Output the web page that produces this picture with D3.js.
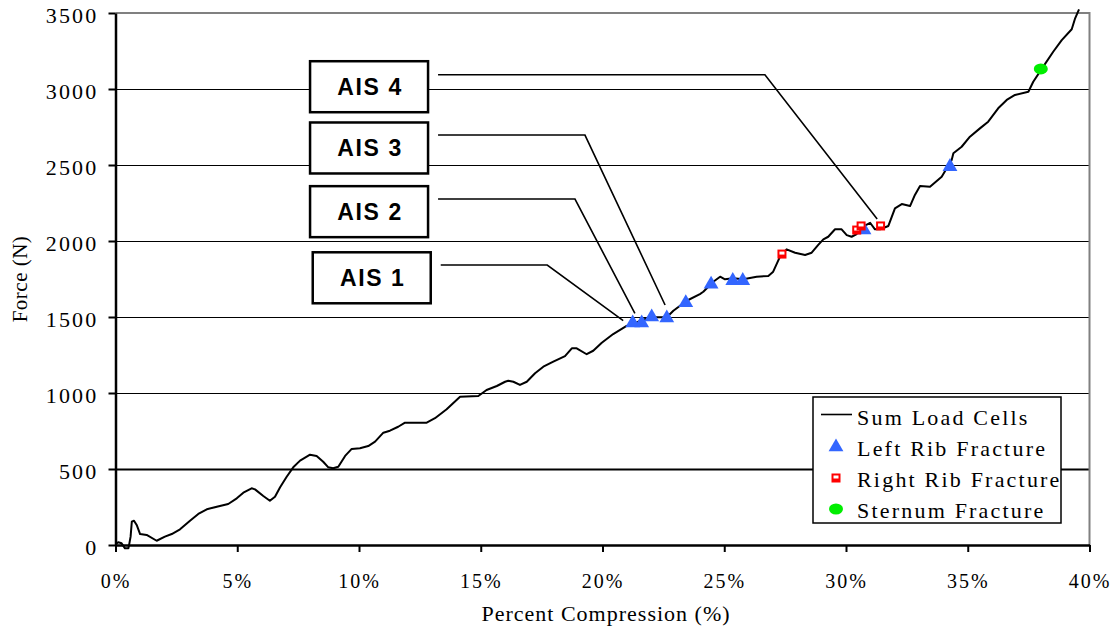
<!DOCTYPE html>
<html>
<head>
<meta charset="utf-8">
<script src="https://cdn.jsdelivr.net/npm/d3@7"></script>
<style>
  body { margin: 0; background: #fff; }
  svg { display: block; }
  .serif { font-family: "Liberation Serif", "Times New Roman", serif; }
  .sans { font-family: "Liberation Sans", Arial, sans-serif; }
</style>
</head>
<body>
<div id="chart"></div>
<script>
// curve: sum of load cells
const pct = [0.05, 0.11, 0.25, 0.39, 0.53, 0.57, 0.62, 0.67, 0.76, 0.87, 1.01, 1.28, 1.69, 2.03, 2.31, 2.65,
  3.06, 3.40, 3.75, 4.16, 4.63, 4.98, 5.25, 5.59, 5.73, 6.07, 6.34, 6.55, 6.76, 7.03, 7.30, 7.58, 7.99, 8.26,
  8.53, 8.74, 8.94, 9.15, 9.43, 9.70, 10.04, 10.38, 10.66, 11.00, 11.27, 11.61, 11.89, 12.78, 13.12, 13.60,
  14.15, 14.90, 15.24, 15.66, 16.00, 16.13, 16.34, 16.61, 16.89, 17.23, 17.57, 17.98, 18.46, 18.74, 18.94,
  19.35, 19.62, 19.97, 20.44, 20.99, 21.26, 21.61, 22.02, 22.64, 22.91, 23.46, 24.00, 24.14, 24.55, 24.83,
  25.03, 25.37, 25.78, 26.33, 26.81, 27.01, 27.29, 27.56, 27.91, 28.32, 28.59, 28.86, 29.07, 29.27, 29.55,
  29.82, 30.03, 30.23, 30.44, 30.64, 30.99, 31.19, 31.40, 31.74, 32.01, 32.29, 32.63, 32.83, 33.04, 33.45,
  33.93, 34.34, 34.41, 34.75, 35.09, 35.50, 35.84, 36.25, 36.60, 36.94, 37.49, 37.69, 38.10, 38.51, 38.86,
  39.27, 39.41, 39.57];
const force = [11, 18, 11, -22, -22, 11, 55, 153, 160, 132, 72, 66, 28, 55, 72, 103,
  160, 204, 235, 252, 270, 307, 344, 373, 366, 322, 291, 318, 380, 449, 511, 555, 594, 586,
  548, 511, 505, 515, 586, 632, 636, 651, 680, 739, 752, 778, 805, 805, 834, 893,
  976, 980, 1020, 1046, 1074, 1081, 1074, 1053, 1074, 1130, 1173, 1206, 1243, 1294, 1294,
  1255, 1278, 1331, 1388, 1441, 1454, 1480, 1498, 1498, 1541, 1607, 1651, 1666, 1732, 1765,
  1748, 1755, 1748, 1765, 1770, 1798, 1897, 1945, 1923, 1908, 1923, 1974, 2011, 2028, 2077,
  2077, 2039, 2028, 2046, 2090, 2120, 2077, 2077, 2099, 2215, 2243, 2230, 2303, 2362, 2357,
  2423, 2533, 2577, 2620, 2686, 2741, 2785, 2873, 2928, 2961, 2982, 3048, 3147, 3245, 3322,
  3393, 3465, 3524];

const leftRibPct = [21.24, 21.61, 22.02, 22.64, 23.42, 24.46, 25.35, 25.76, 30.74, 34.27];
const leftRibForce = [1461, 1461, 1500, 1493, 1594, 1715, 1739, 1739, 2072, 2489];
const rightRibPct = [27.37, 30.44, 30.62, 31.42];
const rightRibForce = [1914, 2072, 2099, 2099];
const sternumPct = [38.00];
const sternumForce = [3132];

// AIS callouts
const aisLabels = ["AIS 1", "AIS 2", "AIS 3", "AIS 4"];
const aisBoxPct = [8.10, 7.99, 7.99, 7.99];
const aisBoxForce = [1758, 2193, 2612, 3015];
const aisElbowPct = [17.73, 18.87, 19.28, 26.67];
const aisElbowForce = [1842, 2276, 2697, 3094];
const aisTargetPct = [20.85, 21.33, 22.57, 31.28];
const aisTargetForce = [1476, 1524, 1579, 2145];

const xTicks = [0, 5, 10, 15, 20, 25, 30, 35, 40];
const yTicks = [0, 500, 1000, 1500, 2000, 2500, 3000, 3500];
const legendLabels = ["Sum Load Cells", "Left Rib Fracture", "Right Rib Fracture", "Sternum Fracture"];

const width = 1112, height = 629;
const margin = {top: 13, right: 22.5, bottom: 84, left: 115.5};

const svg = d3.select('#chart').append('svg')
  .attr('width', width).attr('height', height);

const x = d3.scaleLinear().domain([0, 40]).range([margin.left, width - margin.right]);
const y = d3.scaleLinear().domain([0, 3500]).range([height - margin.bottom, margin.top]);

// gridlines
svg.append('g').selectAll('line')
  .data(yTicks.filter(d => d > 0 && d < 3500))
  .enter().append('line')
  .attr('x1', x(0)).attr('x2', x(40))
  .attr('y1', d => Math.round(y(d)) + 0.5).attr('y2', d => Math.round(y(d)) + 0.5)
  .attr('stroke', '#000')
  .attr('stroke-width', d => d === 500 ? 2 : 1.2);

// gray frame top/right
svg.append('path')
  .attr('d', `M${x(0)},${y(3500)}H${x(40)}V${y(0)}`)
  .attr('fill', 'none').attr('stroke', '#808080').attr('stroke-width', 2);

// axes
const yAxis = svg.append('g')
  .attr('transform', `translate(${x(0)},0)`)
  .call(d3.axisLeft(y).tickValues(yTicks).tickSize(7).tickSizeOuter(0).tickPadding(10)
    .tickFormat(d3.format('d')));
const xAxis = svg.append('g')
  .attr('transform', `translate(0,${y(0)})`)
  .call(d3.axisBottom(x).tickValues(xTicks).tickSize(7).tickSizeOuter(0).tickPadding(10)
    .tickFormat(d => d + '%'));

[yAxis, xAxis].forEach(g => {
  g.attr('font-family', null);
  g.select('.domain').attr('stroke', '#000').attr('stroke-width', 2.5);
  g.selectAll('.tick line').attr('stroke', '#000').attr('stroke-width', 2);
  g.selectAll('.tick text').attr('class', 'serif').attr('fill', '#000');
});
yAxis.selectAll('.tick text').attr('font-size', 22).attr('letter-spacing', 2.2).attr('dy', '0.45em');
xAxis.selectAll('.tick text').attr('font-size', 20).attr('letter-spacing', 2).attr('dy', '1.3em');

// axis titles
svg.append('text')
  .attr('class', 'serif')
  .attr('x', 606).attr('y', 621)
  .attr('text-anchor', 'middle')
  .attr('font-size', 22).attr('letter-spacing', 1)
  .text('Percent Compression (%)');
svg.append('text')
  .attr('class', 'serif')
  .attr('transform', `translate(27,${(y(0) + y(3500)) / 2}) rotate(-90)`)
  .attr('text-anchor', 'middle')
  .attr('font-size', 21).attr('letter-spacing', 0.5)
  .text('Force (N)');

// AIS callouts
const boxW = 118, boxH = 51;
const ais = aisLabels.map((label, i) => ({label, i}));
svg.append('g').selectAll('path')
  .data(ais).enter().append('path')
  .attr('d', d => {
    const sx = x(aisBoxPct[d.i]) + boxW + 10;
    return `M${sx},${y(aisElbowForce[d.i])}L${x(aisElbowPct[d.i])},${y(aisElbowForce[d.i])}` +
      `L${x(aisTargetPct[d.i])},${y(aisTargetForce[d.i])}`;
  })
  .attr('fill', 'none').attr('stroke', '#000').attr('stroke-width', 1.6);

const boxes = svg.append('g').selectAll('g')
  .data(ais).enter().append('g')
  .attr('transform', d => `translate(${x(aisBoxPct[d.i])},${y(aisBoxForce[d.i]) - boxH / 2})`);
boxes.append('rect')
  .attr('width', boxW).attr('height', boxH)
  .attr('fill', '#fff').attr('stroke', '#000').attr('stroke-width', 2.5);
boxes.append('text')
  .attr('class', 'sans')
  .attr('x', boxW / 2 + 1).attr('y', boxH / 2 + 8.5)
  .attr('text-anchor', 'middle')
  .attr('font-weight', 'bold').attr('font-size', 23).attr('letter-spacing', 1.6)
  .text(d => d.label);

// curve
const line = d3.line().x(d => x(d[0])).y(d => y(d[1]));
svg.append('path')
  .datum(pct.map((p, i) => [p, force[i]]))
  .attr('d', line)
  .attr('fill', 'none').attr('stroke', '#000').attr('stroke-width', 2)
  .attr('stroke-linejoin', 'round');

// markers
const tri = d3.symbol(d3.symbolTriangle, 95);
const blue = '#3366ff', red = '#ff0000', green = '#00ee00';

function drawTri(g, px, py) {
  g.append('path').attr('d', tri()).attr('transform', `translate(${px},${py})`).attr('fill', blue);
}
function drawSquare(g, px, py) {
  g.append('rect').attr('x', px - 4.5).attr('y', py - 4.5).attr('width', 9).attr('height', 9).attr('fill', red);
  g.append('rect').attr('x', px - 2.5).attr('y', py - 2.5).attr('width', 5).attr('height', 3).attr('fill', '#fff');
}
function drawDot(g, px, py) {
  g.append('ellipse').attr('cx', px).attr('cy', py).attr('rx', 7).attr('ry', 5.5).attr('fill', green);
}

const marks = svg.append('g');
leftRibPct.forEach((p, i) => drawTri(marks, x(p), y(leftRibForce[i])));
rightRibPct.forEach((p, i) => drawSquare(marks, x(p), y(rightRibForce[i])));
sternumPct.forEach((p, i) => drawDot(marks, x(p), y(sternumForce[i])));

// legend
const lg = svg.append('g').attr('transform', 'translate(813,397)');
lg.append('rect').attr('width', 248).attr('height', 126)
  .attr('fill', '#fff').attr('stroke', '#000').attr('stroke-width', 1.5);
legendLabels.forEach((label, i) => {
  const cy = 19 + i * 31;
  if (i === 0) lg.append('line').attr('x1', 8).attr('x2', 39).attr('y1', cy - 1.5).attr('y2', cy - 1.5)
    .attr('stroke', '#000').attr('stroke-width', 1.6);
  if (i === 1) drawTri(lg, 23, cy);
  if (i === 2) drawSquare(lg, 23, cy);
  if (i === 3) drawDot(lg, 23, cy);
  lg.append('text')
    .attr('class', 'serif')
    .attr('x', 44).attr('y', cy + 9)
    .attr('font-size', 22).attr('letter-spacing', 2.2)
    .text(label);
});
</script>
</body>
</html>
